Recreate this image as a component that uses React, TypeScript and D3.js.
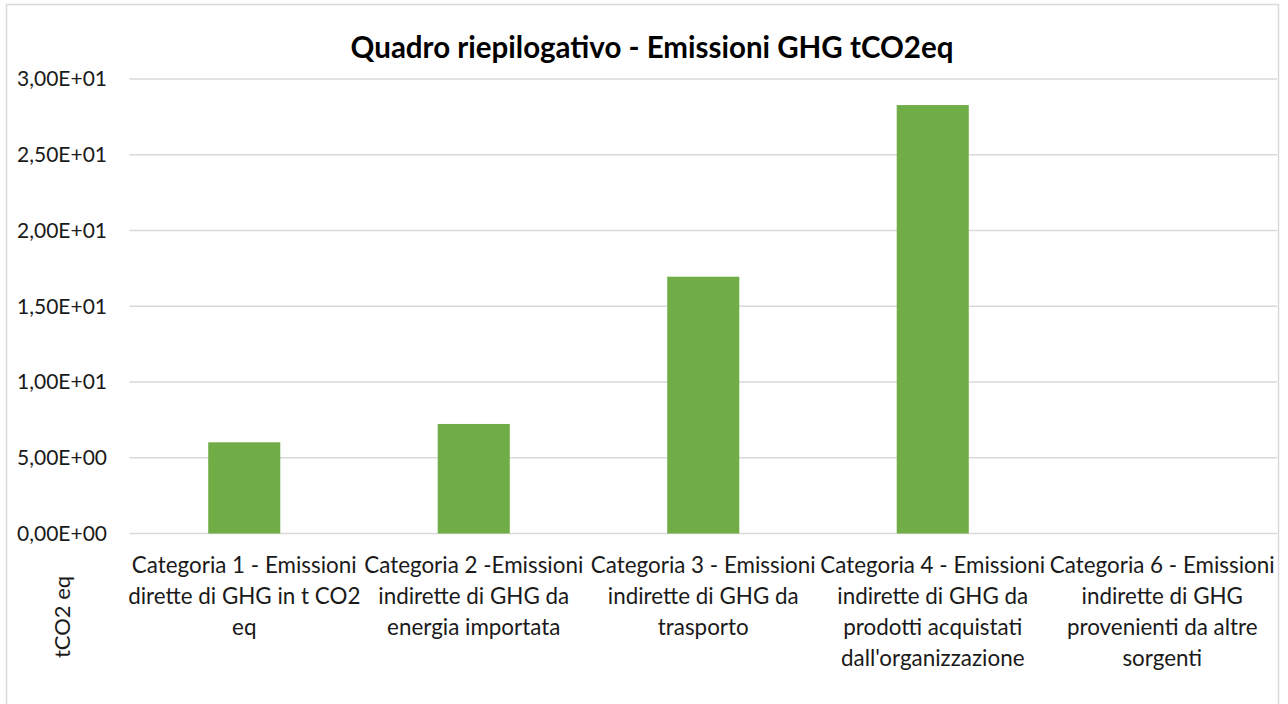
import React from 'react'
import * as d3 from 'd3'

// chart data
const categories = ['cat1', 'cat2', 'cat3', 'cat4', 'cat6']
const categoryLabels = [
  ['Categoria 1 - Emissioni', 'dirette di GHG in t CO2', 'eq'],
  ['Categoria 2 -Emissioni', 'indirette di GHG da', 'energia importata'],
  ['Categoria 3 - Emissioni', 'indirette di GHG da', 'trasporto'],
  ['Categoria 4 - Emissioni', 'indirette di GHG da', 'prodotti acquistati', "dall'organizzazione"],
  ['Categoria 6 - Emissioni', 'indirette di GHG', 'provenienti da altre', 'sorgenti'],
]
const emissions = [6.02, 7.23, 16.95, 28.28, 0]
const yTicks = [0, 5, 10, 15, 20, 25, 30]

const W = 1288
const H = 704
const FONT = 'Lato, "Noto Sans", sans-serif'

const fmtTick = (v: number) => {
  // Excel style scientific format with comma decimal
  const s = v.toExponential(2) // e.g. 3.00e+1
  const [m, e] = s.split('e')
  const exp = parseInt(e, 10)
  const sign = exp < 0 ? '-' : '+'
  return `${m.replace('.', ',')}E${sign}${String(Math.abs(exp)).padStart(2, '0')}`
}

export default function App() {
  const x = d3.scaleBand<string>()
    .domain(categories)
    .range([129.5, 1277])
    .padding(0)

  const y = d3.scaleLinear()
    .domain([0, 30])
    .range([533.5, 79])

  const barW = x.bandwidth() * 0.314

  return (
    <svg width={W} height={H} style={{ position: 'absolute', left: 0, top: 0, background: '#fff' }}
      fontFamily={FONT}>
      <rect x={6.5} y={4.5} width={1272} height={720} fill="#fff" stroke="#d9d9d9" strokeWidth={1.5} />

      <text x={652} y={58} textAnchor="middle" fontSize={29.5} fontWeight="bold" fill="#000">
        Quadro riepilogativo - Emissioni GHG tCO2eq
      </text>

      {/* gridlines */}
      {yTicks.map(t => (
        <line key={t} x1={129.5} x2={1277} y1={y(t)} y2={y(t)} stroke="#d9d9d9" strokeWidth={t === 0 ? 1.6 : 1.3} />
      ))}

      {/* y tick labels */}
      {yTicks.map(t => (
        <text key={'l' + t} x={107} y={y(t)} dy="0.35em" textAnchor="end" fontSize={21} fill="#1a1a1a">
          {fmtTick(t)}
        </text>
      ))}

      {/* bars */}
      {categories.map((c, i) => (
        emissions[i] > 0 && (
          <rect key={c}
            x={(x(c) as number) + x.bandwidth() / 2 - barW / 2}
            y={y(emissions[i])}
            width={barW}
            height={y(0) - y(emissions[i])}
            fill="#70ad47" />
        )
      ))}

      {/* category labels */}
      {categories.map((c, i) => (
        <text key={'c' + c} textAnchor="middle" fontSize={22.4} fill="#1a1a1a">
          {categoryLabels[i].map((line, j) => (
            <tspan key={j} x={(x(c) as number) + x.bandwidth() / 2} y={573 + j * 31}>{line}</tspan>
          ))}
        </text>
      ))}

      {/* y axis title */}
      <text transform="translate(70,617) rotate(-90)" textAnchor="middle" fontSize={22} fill="#1a1a1a">
        tCO2 eq
      </text>
    </svg>
  )
}
